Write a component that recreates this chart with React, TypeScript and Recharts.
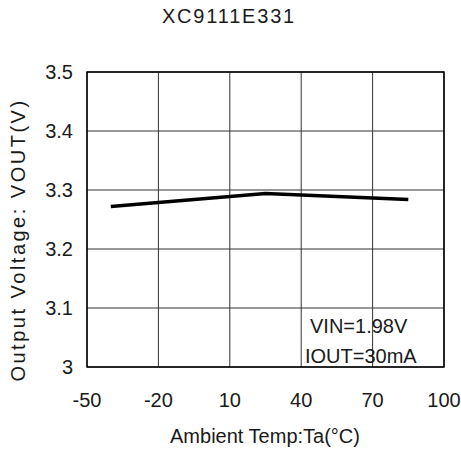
import React from "react";
import {
  CartesianGrid,
  Line,
  LineChart,
  ReferenceArea,
  XAxis,
  YAxis,
} from "recharts";

const temps = [-40, 25, 85];
const vout = [3.272, 3.294, 3.284];
const xTicks = [-50, -20, 10, 40, 70, 100];
const yTicks = [3, 3.1, 3.2, 3.3, 3.4, 3.5];

const data = temps.map((t, i) => ({ temp: t, vout: vout[i] }));

const font = "'Liberation Sans', Arial, sans-serif";
const ink = "#1a1a1a";

export default function App() {
  return (
    <div style={{ position: "absolute", left: 0, top: 0, width: 461, height: 454, background: "#fff" }}>
      <LineChart
        width={461}
        height={454}
        data={data}
        margin={{ top: 72, right: 17, bottom: 0, left: 0 }}
      >
        <CartesianGrid stroke="#333" strokeWidth={1} />
        <XAxis
          dataKey="temp"
          type="number"
          domain={[-50, 100]}
          ticks={xTicks}
          axisLine={false}
          tickLine={false}
          tickSize={0}
          tickMargin={26}
          height={87}
          tick={{ fontSize: 20, fill: ink, fontFamily: font }}
        />
        <YAxis
          type="number"
          domain={[3, 3.5]}
          ticks={yTicks}
          axisLine={false}
          tickLine={false}
          tickSize={0}
          tickMargin={14}
          width={87}
          tickFormatter={(v: number) => String(v)}
          tick={{ fontSize: 20, fill: ink, fontFamily: font }}
        />
        <ReferenceArea
          x1={-50}
          x2={100}
          y1={3}
          y2={3.5}
          fill="none"
          stroke="#000"
          strokeWidth={1.5}
          ifOverflow="visible"
        />
        <Line
          dataKey="vout"
          type="linear"
          stroke="#000"
          strokeWidth={3.5}
          dot={false}
          isAnimationActive={false}
        />
      </LineChart>
      <svg
        width={461}
        height={454}
        style={{ position: "absolute", left: 0, top: 0, pointerEvents: "none" }}
        fontFamily={font}
        fill={ink}
      >
        <text x={229} y={23} textAnchor="middle" fontSize={20} letterSpacing={1.8}>
          XC9111E331
        </text>
        <text x={265} y={443} textAnchor="middle" fontSize={20}>
          Ambient Temp:Ta(°C)
        </text>
        <text
          x={25}
          y={240}
          textAnchor="middle"
          fontSize={20}
          letterSpacing={2.5}
          transform="rotate(-90 25 240)"
        >
          Output Voltage: VOUT(V)
        </text>
        <text x={310} y={333} fontSize={20}>VIN=1.98V</text>
        <text x={305} y={363} fontSize={20}>IOUT=30mA</text>
      </svg>
    </div>
  );
}
